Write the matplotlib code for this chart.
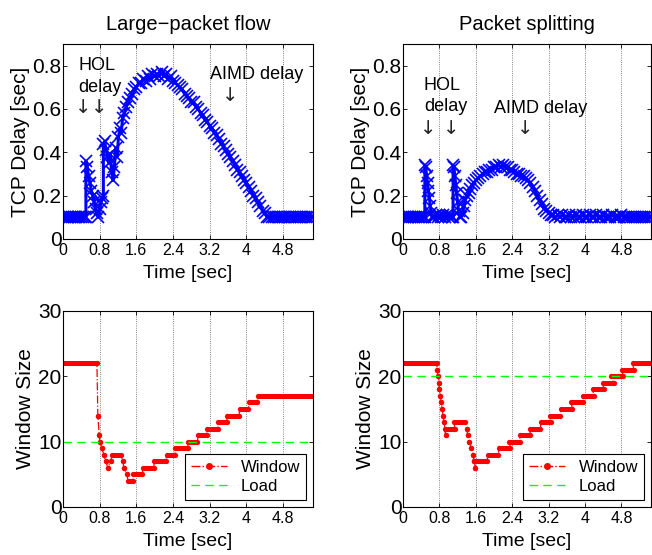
import matplotlib
matplotlib.use("Agg")
import matplotlib.pyplot as plt
from matplotlib.lines import Line2D

plt.rcParams['font.family'] = ['Liberation Sans', 'DejaVu Sans']

# ---- TCP delay, large-packet flow (time [s], delay [s]) ----
t_large = [0.00, 0.04, 0.08, 0.12, 0.16, 0.20, 0.24, 0.28, 0.32, 0.36, 0.40, 0.44, 0.48,
           0.50, 0.50, 0.53, 0.56, 0.59, 0.62, 0.65, 0.68, 0.71, 0.74, 0.77, 0.80, 0.83, 0.86, 0.88,
           0.88, 0.91, 0.94, 0.97, 1.00, 1.03, 1.06, 1.09, 1.12, 1.15, 1.18, 1.21, 1.24, 1.27, 1.30,
           1.34, 1.38, 1.42, 1.46, 1.50, 1.55, 1.60, 1.65, 1.70, 1.75, 1.80, 1.85, 1.90, 1.95, 2.00,
           2.05, 2.10, 2.15, 2.20, 2.25, 2.30, 2.35, 2.40, 2.45, 2.50, 2.55, 2.60, 2.65, 2.70, 2.75,
           2.80, 2.85, 2.90, 2.95, 3.00, 3.05, 3.10, 3.15, 3.20, 3.25, 3.30, 3.35, 3.40, 3.45, 3.50,
           3.55, 3.60, 3.65, 3.70, 3.75, 3.80, 3.85, 3.90, 3.95, 4.00, 4.05, 4.10, 4.15, 4.20, 4.25,
           4.30, 4.35, 4.40, 4.45, 4.50, 4.55, 4.60, 4.65, 4.70, 4.75, 4.80, 4.85, 4.90, 4.95, 5.00,
           5.05, 5.10, 5.15, 5.20, 5.25, 5.30, 5.35, 5.40, 5.45]
d_large = [0.10, 0.10, 0.10, 0.10, 0.10, 0.10, 0.10, 0.10, 0.10, 0.10, 0.10, 0.10, 0.10,
           0.10, 0.36, 0.33, 0.29, 0.26, 0.22, 0.20, 0.17, 0.14, 0.12, 0.10, 0.14, 0.17, 0.19, 0.20,
           0.44, 0.45, 0.41, 0.38, 0.35, 0.39, 0.31, 0.27, 0.33, 0.42, 0.38, 0.47, 0.51, 0.49, 0.56,
           0.58, 0.61, 0.63, 0.65, 0.67, 0.69, 0.70, 0.72, 0.72, 0.74, 0.73, 0.75, 0.74, 0.76, 0.75,
           0.76, 0.75, 0.77, 0.75, 0.76, 0.74, 0.75, 0.73, 0.72, 0.71, 0.70, 0.69, 0.67, 0.66, 0.65,
           0.63, 0.63, 0.61, 0.60, 0.58, 0.57, 0.55, 0.54, 0.52, 0.51, 0.49, 0.48, 0.46, 0.44, 0.43,
           0.41, 0.39, 0.38, 0.36, 0.34, 0.32, 0.31, 0.29, 0.27, 0.26, 0.24, 0.22, 0.20, 0.19, 0.17,
           0.15, 0.13, 0.12, 0.10, 0.10, 0.10, 0.10, 0.10, 0.10, 0.10, 0.10, 0.10, 0.10, 0.10, 0.10,
           0.10, 0.10, 0.10, 0.10, 0.10, 0.10, 0.10, 0.10, 0.10]

# ---- TCP delay, packet splitting ----
t_split = [0.00, 0.04, 0.08, 0.12, 0.16, 0.20, 0.24, 0.28, 0.32, 0.36, 0.40, 0.44, 0.48,
           0.48, 0.50, 0.52, 0.54, 0.56, 0.58, 0.60, 0.62, 0.64, 0.68, 0.72, 0.76, 0.80, 0.84,
           0.88, 0.92, 0.96, 1.00, 1.04, 1.08, 1.10, 1.10, 1.12, 1.14, 1.16, 1.18, 1.20, 1.22,
           1.25, 1.28, 1.31, 1.34, 1.37, 1.40, 1.44, 1.48, 1.52, 1.56, 1.60, 1.65, 1.70, 1.75,
           1.80, 1.85, 1.90, 1.95, 2.00, 2.05, 2.10, 2.15, 2.20, 2.25, 2.30, 2.35, 2.40, 2.45,
           2.50, 2.55, 2.60, 2.65, 2.70, 2.75, 2.80, 2.85, 2.90, 2.95, 3.00, 3.05, 3.10, 3.15,
           3.20, 3.25, 3.30, 3.35, 3.40, 3.45, 3.50, 3.55, 3.60, 3.65, 3.70, 3.75, 3.80, 3.85,
           3.90, 3.95, 4.00, 4.05, 4.10, 4.15, 4.20, 4.25, 4.30, 4.35, 4.40, 4.45, 4.50, 4.55,
           4.60, 4.65, 4.70, 4.75, 4.80, 4.85, 4.90, 4.95, 5.00, 5.05, 5.10, 5.15, 5.20, 5.25,
           5.30, 5.35, 5.40, 5.45]
d_split = [0.10, 0.10, 0.10, 0.10, 0.10, 0.10, 0.10, 0.10, 0.10, 0.10, 0.10, 0.10, 0.10,
           0.34, 0.33, 0.29, 0.26, 0.22, 0.19, 0.15, 0.12, 0.10, 0.10, 0.11, 0.10, 0.11, 0.10,
           0.11, 0.10, 0.11, 0.10, 0.11, 0.10, 0.10, 0.34, 0.33, 0.29, 0.25, 0.21, 0.17, 0.13,
           0.10, 0.10, 0.12, 0.15, 0.18, 0.20, 0.21, 0.23, 0.25, 0.26, 0.27, 0.28, 0.29, 0.30,
           0.31, 0.31, 0.32, 0.32, 0.33, 0.33, 0.34, 0.33, 0.34, 0.33, 0.33, 0.32, 0.32, 0.31,
           0.30, 0.30, 0.29, 0.29, 0.28, 0.27, 0.26, 0.24, 0.22, 0.20, 0.18, 0.16, 0.14, 0.13,
           0.12, 0.11, 0.11, 0.10, 0.11, 0.10, 0.11, 0.10, 0.10, 0.11, 0.10, 0.10, 0.11, 0.10,
           0.10, 0.11, 0.10, 0.10, 0.11, 0.10, 0.10, 0.11, 0.10, 0.10, 0.11, 0.10, 0.10, 0.10,
           0.11, 0.10, 0.10, 0.10, 0.11, 0.10, 0.10, 0.10, 0.10, 0.10, 0.10, 0.10, 0.10, 0.10,
           0.10, 0.10, 0.10, 0.10]

# ---- Window size: constant steps (start [s], end [s], window) ----
win_large_start = [0.00, 0.76, 0.79, 0.80, 0.85, 0.89, 0.93, 0.98, 1.04, 1.07, 1.30, 1.33, 1.39,
                   1.42, 1.53, 1.74, 1.99, 2.26, 2.45, 2.73, 2.95, 3.14, 3.38, 3.58, 3.85, 4.05, 4.25]
win_large_end = [0.74, 0.76, 0.79, 0.80, 0.85, 0.89, 0.93, 0.98, 1.04, 1.27, 1.30, 1.33, 1.39,
                 1.52, 1.73, 1.98, 2.24, 2.44, 2.72, 2.93, 3.13, 3.37, 3.57, 3.84, 4.04, 4.23, 5.45]
win_large_val = [22, 14, 11, 10, 9, 8, 7, 6, 7, 8, 7, 6, 5,
                 4, 5, 6, 7, 8, 9, 10, 11, 12, 13, 14, 15, 16, 17]

win_split_start = [0.00, 0.75, 0.77, 0.79, 0.80, 0.82, 0.84, 0.86, 0.88, 0.90, 0.94, 0.92,
                   1.12, 1.40, 1.42, 1.46, 1.50, 1.54, 1.56, 1.59,
                   1.57, 1.87, 2.11, 2.34, 2.56, 2.78, 3.03, 3.22, 3.47, 3.70, 3.95, 4.17,
                   4.39, 4.57, 4.82, 5.05]
win_split_end = [0.74, 0.75, 0.77, 0.79, 0.80, 0.82, 0.84, 0.86, 0.88, 0.90, 0.94, 1.14,
                 1.37, 1.40, 1.42, 1.46, 1.50, 1.54, 1.56, 1.59,
                 1.84, 2.09, 2.36, 2.58, 2.80, 3.02, 3.25, 3.46, 3.72, 3.95, 4.19, 4.41,
                 4.63, 4.83, 5.07, 5.45]
win_split_val = [22, 21, 20, 19, 18, 17, 16, 15, 14, 13, 11, 12,
                 13, 12, 11, 10, 9, 8, 7, 6,
                 7, 8, 9, 10, 11, 12, 13, 14, 15, 16, 17, 18,
                 19, 20, 21, 22]

load_large = 10
load_split = 20

titles = ["Large\u2212packet flow", "Packet splitting"]
xticks = [0, 0.8, 1.6, 2.4, 3.2, 4, 4.8]
xticklabels = ["0", "0.8", "1.6", "2.4", "3.2", "4", "4.8"]

blue = "#0000ff"
red = "#ff0000"
green = "#00ff00"

fig = plt.figure(figsize=(6.52, 5.55), dpi=100)
ax_tl = fig.add_axes([0.0966, 0.5694, 0.3834, 0.3514])
ax_tr = fig.add_axes([0.6181, 0.5694, 0.3804, 0.3514])
ax_bl = fig.add_axes([0.0966, 0.0865, 0.3834, 0.3532])
ax_br = fig.add_axes([0.6181, 0.0865, 0.3804, 0.3532])


def style(ax, yticks, ylim, ylabel):
    ax.set_xlim(0, 5.45)
    ax.set_ylim(*ylim)
    ax.set_xticks(xticks)
    ax.set_xticklabels(xticklabels)
    ax.set_yticks(yticks)
    ax.tick_params(direction='in', top=True, right=True, length=3, width=0.6)
    ax.tick_params(axis='x', labelsize=11.5, pad=3)
    ax.tick_params(axis='y', labelsize=15, pad=1)
    ax.xaxis.grid(True, color='0.35', linestyle=':', linewidth=0.6)
    ax.set_axisbelow(True)
    ax.set_xlabel("Time [sec]", fontsize=14, labelpad=5)
    ax.set_ylabel(ylabel, fontsize=15, labelpad=2)
    for sp in ax.spines.values():
        sp.set_linewidth(0.8)


# top: delay
for ax, t, d, title in [(ax_tl, t_large, d_large, titles[0]), (ax_tr, t_split, d_split, titles[1])]:
    ax.plot(t, d, '-', color=blue, lw=2.2)
    ax.plot(t, d, 'x', color=blue, ms=8.5, mew=1.2)
    style(ax, [0, 0.2, 0.4, 0.6, 0.8], (0, 0.9), "TCP Delay [sec]")
    ax.set_yticklabels(["0", "0.2", "0.4", "0.6", "0.8"])
    ax.set_title(title, fontsize=14.5, pad=10)

ann = dict(fontsize=13, color='black', va='center')
arr = dict(fontsize=14, color='0.15', va='center', ha='center', family='DejaVu Sans')
ax_tl.text(0.33, 0.80, "HOL", ha='left', **ann)
ax_tl.text(0.33, 0.70, "delay", ha='left', **ann)
ax_tl.text(0.44, 0.607, "\u2193", **arr)
ax_tl.text(0.79, 0.607, "\u2193", **arr)
ax_tl.text(3.20, 0.76, "AIMD delay", ha='left', **ann)
ax_tl.text(3.65, 0.66, "\u2193", **arr)

ax_tr.text(0.46, 0.71, "HOL", ha='left', **ann)
ax_tr.text(0.46, 0.61, "delay", ha='left', **ann)
ax_tr.text(0.56, 0.51, "\u2193", **arr)
ax_tr.text(1.05, 0.51, "\u2193", **arr)
ax_tr.text(2.00, 0.60, "AIMD delay", ha='left', **ann)
ax_tr.text(2.68, 0.51, "\u2193", **arr)

# bottom: window size
for ax, s, e, v, load in [(ax_bl, win_large_start, win_large_end, win_large_val, load_large),
                          (ax_br, win_split_start, win_split_end, win_split_val, load_split)]:
    path_x, path_y = [], []
    for a, b, w in zip(s, e, v):
        path_x += [a, b]
        path_y += [w, w]
    ax.plot(path_x, path_y, '-.', color=red, lw=0.9)
    for a, b, w in zip(s, e, v):
        ax.plot([a, b], [w, w], '-', color=red, lw=3.6, solid_capstyle='butt',
                marker='o', ms=3.8, mew=0)
    ax.axhline(load, color=green, linestyle='--', lw=1.0, dashes=(6, 4))
    style(ax, [0, 10, 20, 30], (0, 30), "Window Size")
    handles = [Line2D([], [], color=red, linestyle='-.', marker='.', ms=8, lw=1.0),
               Line2D([], [], color=green, linestyle='--', lw=1.0, dashes=(6, 4))]
    leg = ax.legend(handles, ["Window", "Load"], loc='lower right', bbox_to_anchor=(0.972, 0.036),
                    borderaxespad=0, fontsize=12, fancybox=False, framealpha=1,
                    edgecolor='black', handlelength=2.2, borderpad=0.35, labelspacing=0.25)
    leg.get_frame().set_linewidth(0.8)

fig.savefig("out.png", dpi=100)
